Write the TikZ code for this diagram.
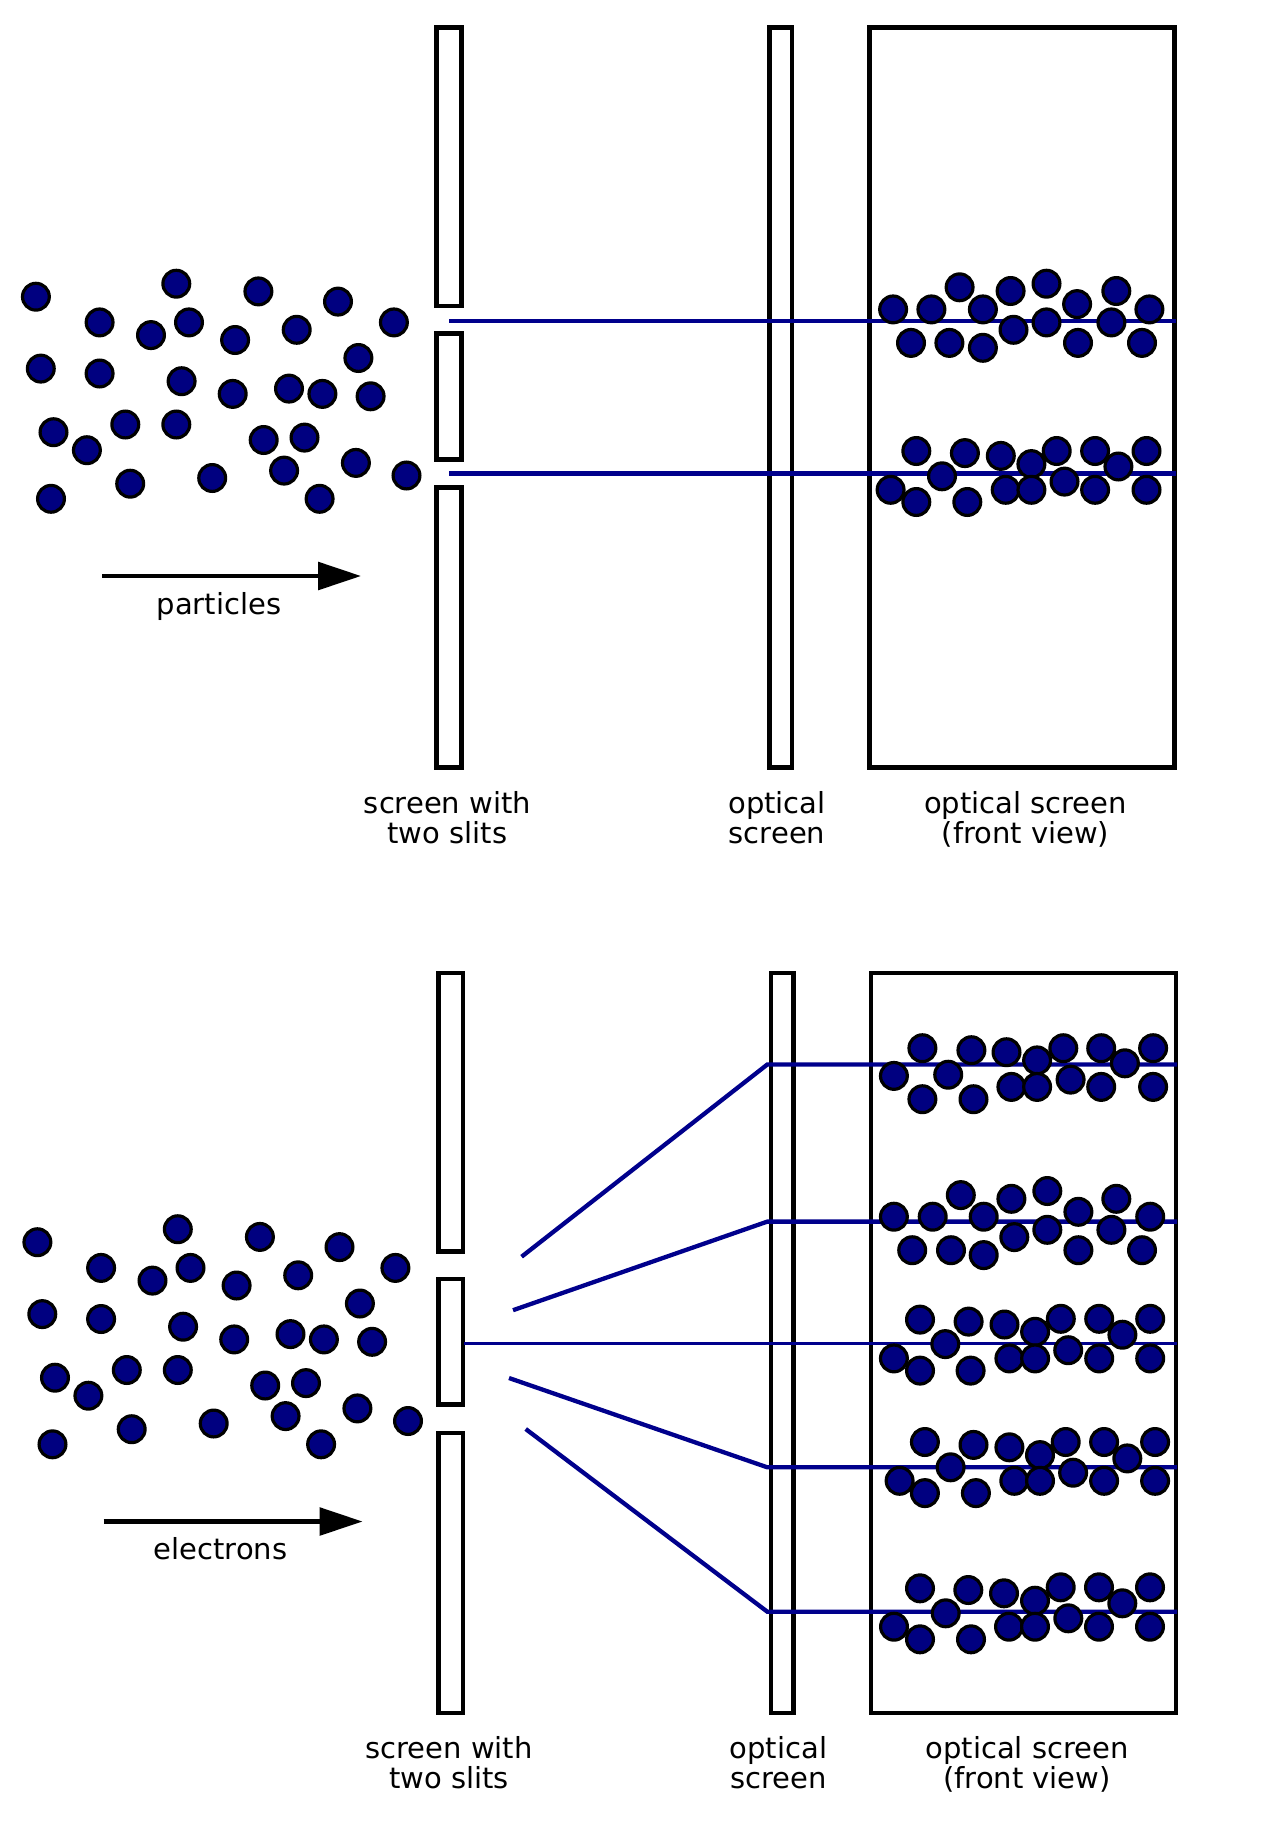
\documentclass[tikz,border=0pt]{standalone}
\usepackage{fontspec}
\setmainfont{DejaVu Sans}
\usetikzlibrary{arrows.meta}
\definecolor{dotblue}{RGB}{0,0,128}
\definecolor{rayblue}{RGB}{0,0,140}
\begin{document}
\begin{tikzpicture}[x=1pt,y=-1pt,
  screenbox/.style={draw=black, line width=4.6pt, rectangle, inner sep=0pt, outer sep=0pt},
  ray/.style={draw=rayblue, line width=4.3pt},
  thinray/.style={draw=rayblue, line width=2.8pt},
  dot/.style={draw=black, fill=dotblue, line width=3.2pt},
  lbl/.style={font=\fontsize{29}{30}\selectfont, inner sep=0pt, anchor=base},
  flow/.style={draw=black, line width=4.3pt, -{Triangle[length=43pt,width=27.5pt]}}]
\useasboundingbox (0,0) rectangle (1280,1834);
\fill[white] (0,0) rectangle (1280,1834);

\foreach \p/\dx/\dy/\word in {t/0/0/particles, b/1.5/945.5/electrons}{
  \begin{scope}[shift={(\dx,\dy)}]
    % screen with two slits
    \node[screenbox, minimum width=24.6pt, minimum height=278.7pt] (slitA\p) at (449,166.65) {};
    \node[screenbox, minimum width=24.6pt, minimum height=125.8pt] (slitB\p) at (449,396.3) {};
    \node[screenbox, minimum width=24.6pt, minimum height=280pt] (slitC\p) at (449,627.6) {};
    % optical screen (side)
    \node[screenbox, minimum width=22.6pt, minimum height=739.9pt] (opt\p) at (780.6,397.5) {};
    % optical screen (front view)
    \node[screenbox, minimum width=304.7pt, minimum height=739.9pt] (front\p) at (1022,397.5) {};
    % labels
    \node[lbl] (l1a\p) at (447.5,813.3) {screen with};
    \node[lbl] (l1b\p) at (447.5,843.3) {two slits};
    \node[lbl] (l2a\p) at (777,813.3) {optical};
    \node[lbl] (l2b\p) at (777,843.3) {screen};
    \node[lbl] (l3a\p) at (1025.5,813.3) {optical screen};
    \node[lbl] (l3b\p) at (1025.5,843.3) {(front view)};
    % flow arrow
    \coordinate (fs\p) at (102,576);
    \coordinate (fe\p) at (361,576);
    \draw[flow] (fs\p) -- (fe\p);
    \node[lbl] (fl\p) at (219,614.3) {\word};
    % incoming particles
    \foreach \x/\y in {35.9/296.7, 176.3/283.7, 258.4/291.4, 338/301.6, 99.6/322.4,
      151/335.1, 189/322.4, 235.1/340, 296.7/329.8, 393.9/322.4, 40.8/368.6,
      99.6/373.5, 358.4/358, 181.6/381.2, 232.7/393.9, 289/388.6, 322.4/393.9,
      370.6/396.3, 53.5/432.2, 125.3/424.5, 176.3/424.5, 86.9/450.2, 263.7/440,
      304.5/437.6, 355.9/462.9, 284.1/470.6, 406.5/475.5, 51/498.8, 130.2/483.7,
      212.2/478, 319.6/498.8}
      {\draw[dot] (\x,\y) circle[radius=13.4pt];}
  \end{scope}
}

% top panel rays
\coordinate (ts1) at (449,321.2);
\coordinate (te1) at (1176,321.2);
\coordinate (ts2) at (449,473.5);
\coordinate (te2) at (1176,473.5);
\draw[ray] (ts1) -- (te1);
\draw[ray] (ts2) -- (te2);

% bottom panel rays
\coordinate (bs0) at (464,1343.5);
\coordinate (be0) at (1177,1343.5);
\draw[thinray] (bs0) -- (be0);
\coordinate (bs1) at (521.6,1256.7);
\coordinate (bk1) at (767.3,1064.5);
\coordinate (be1) at (1177,1064.5);
\draw[ray] (bs1) -- (bk1) -- (be1);
\coordinate (bs2) at (513,1310.2);
\coordinate (bk2) at (767.3,1221.6);
\coordinate (be2) at (1177,1221.6);
\draw[ray] (bs2) -- (bk2) -- (be2);
\coordinate (bs3) at (509,1378);
\coordinate (bk3) at (767.3,1467.3);
\coordinate (be3) at (1177,1467.3);
\draw[ray] (bs3) -- (bk3) -- (be3);
\coordinate (bs4) at (525.7,1429);
\coordinate (bk4) at (767.3,1611.7);
\coordinate (be4) at (1177,1611.7);
\draw[ray] (bs4) -- (bk4) -- (be4);

% top panel hits
\foreach \x/\y in {893.1/309.4, 931.4/309.4, 959.6/287.3, 982.9/309.4, 1010.6/291,
  1046.5/283.7, 1077.1/304.1, 1116.3/291, 1149.4/309.4, 911/342.9, 949.4/342.9,
  982.9/347.8, 1013.5/329.8, 1046.5/322.4, 1111.4/322.4, 1078/342.9, 1142/342.9}
  {\draw[dot] (\x,\y) circle[radius=13.4pt];}
\foreach \x/\y in {916.3/451, 964.9/453.1, 1000.8/455.9, 1031.4/464.1, 1056.7/451,
  1095.1/451, 1118.4/466.5, 1146.5/451, 942/476.3, 890.6/489.8, 916.3/502,
  967.3/502, 1005.7/489.8, 1031.4/489.8, 1064.5/481.6, 1095.1/489.8, 1146.5/489.8}
  {\draw[dot] (\x,\y) circle[radius=13.4pt];}

% bottom panel hits
\foreach \x/\y in {922.4/1048.2, 971.4/1050.2, 1006.5/1052.2, 1037.1/1060.4, 1063.3/1048.2,
  1101.2/1048.2, 1124.9/1063.3, 1153.1/1048.2, 948.2/1074.7, 893.9/1075.9, 922.4/1099.2,
  973.5/1099.2, 1011.4/1086.9, 1037.1/1086.9, 1070.6/1079.6, 1101.2/1086.9, 1153.1/1086.9}
  {\draw[dot] (\x,\y) circle[radius=13.4pt];}
\foreach \x/\y in {893.9/1216.7, 932.7/1216.7, 960.8/1195.1, 983.7/1216.7, 1011.4/1198.8,
  1047.3/1191, 1078.4/1211.8, 1116.3/1198.8, 1150.2/1216.7, 912.2/1250.2, 951/1250.2,
  983.7/1255.1, 1014.3/1237.1, 1047.3/1229.8, 1111.4/1229.8, 1078.4/1250.2, 1142/1250.2}
  {\draw[dot] (\x,\y) circle[radius=13.4pt];}
\foreach \x/\y in {920/1319.6, 968.6/1321.6, 1004.5/1324.5, 1035.1/1331.8, 1060.8/1318.8,
  1099.2/1318.8, 1122.4/1334.7, 1150.2/1318.8, 945.3/1344.1, 893.9/1358.4, 920/1370.6,
  970.6/1370.6, 1009.4/1358.4, 1035.1/1358.4, 1068.2/1350.2, 1099.2/1358.4, 1150.2/1358.4}
  {\draw[dot] (\x,\y) circle[radius=13.4pt];}
\foreach \x/\y in {924.9/1442, 973.5/1444.9, 1009.4/1447.3, 1040/1455.1, 1065.7/1442,
  1104.1/1442, 1127.3/1458.4, 1155.1/1442, 950.6/1467.3, 899.6/1480.8, 924.9/1493.1,
  975.9/1493.1, 1014.3/1480.8, 1040/1480.8, 1073.1/1472.7, 1104.1/1480.8, 1155.1/1480.8}
  {\draw[dot] (\x,\y) circle[radius=13.4pt];}
\foreach \x/\y in {920/1588.3, 968.3/1590, 1004/1593.3, 1035/1600.7, 1060.7/1587.3,
  1099/1587.3, 1122.3/1603.3, 1150/1587.3, 945.7/1613.3, 894/1626.7, 920/1639.3,
  971/1639.3, 1009/1626.7, 1035/1626.7, 1068.3/1618.3, 1099/1626.7, 1150/1626.7}
  {\draw[dot] (\x,\y) circle[radius=13.4pt];}
\end{tikzpicture}
\end{document}
